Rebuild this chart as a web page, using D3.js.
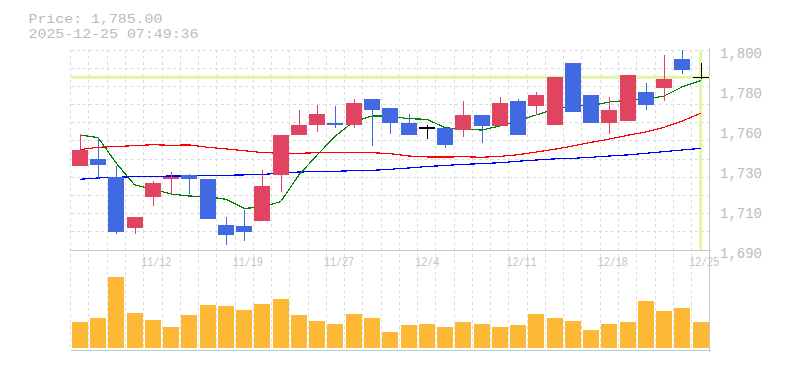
<!DOCTYPE html>
<html>
<head>
<meta charset="utf-8">
<script src="https://cdn.jsdelivr.net/npm/d3@7"></script>
<style>
html,body{margin:0;padding:0;background:#fff;}
svg{display:block;}
</style>
</head>
<body>
<script>
// ---- data ----
const dates = ["11/6","11/7","11/10","11/11","11/12","11/13","11/14","11/17","11/18","11/19","11/20","11/21","11/25","11/26","11/27","11/28","12/1","12/2","12/3","12/4","12/5","12/8","12/9","12/10","12/11","12/12","12/15","12/16","12/17","12/18","12/19","12/22","12/23","12/24","12/25"];
const open  = [1736,1740,1730,1702,1719,1729,1731,1729,1704,1703,1706,1731,1753,1759,1760,1759,1773,1768,1760,1757,1757,1756,1764,1758,1772,1769,1759,1793,1775,1760,1761,1777,1779,1795,1785];
const high  = [1754,1752,1736,1708,1728,1733,1732,1729,1708,1712,1734,1753,1767,1770,1769,1773,1773,1768,1765,1759,1757,1772,1764,1774,1773,1777,1785,1793,1775,1774,1786,1782,1797,1800,1793];
const low   = [1736,1729,1699,1699,1714,1721,1721,1707,1693,1695,1706,1722,1753,1755,1757,1757,1747,1754,1753,1751,1746,1752,1749,1758,1753,1764,1759,1766,1760,1754,1761,1767,1772,1787,1784];
const close = [1745,1737,1700,1708,1727,1730,1729,1707,1698,1700,1725,1753,1759,1765,1759,1771,1767,1760,1753,1757,1748,1764,1758,1771,1753,1775,1785,1766,1760,1767,1786,1770,1784,1789,1785];
const volume = [272,313,732,364,293,221,344,446,436,395,456,507,344,283,252,354,313,170,242,252,221,272,252,221,242,354,313,283,191,252,272,487,385,415,272];
const ma5  = [1753.3,1751.8,1737.7,1725.8,1723.5,1720.8,1719.7,1719.3,1717.9,1712.9,1713.6,1716.6,1731.3,1742.3,1752.7,1760.6,1763.7,1763.7,1762.2,1761.9,1757.3,1756.4,1756.0,1758.2,1761.1,1764.3,1767.4,1769.2,1769.4,1771.4,1772.3,1772.9,1774.7,1779.8,1783.1];
const ma25 = [1745.2,1746.5,1746.9,1747.4,1747.9,1747.6,1747.8,1746.5,1745.6,1744.6,1743.6,1743.2,1743.2,1743.5,1743.5,1743.5,1743.5,1743.0,1741.7,1741.2,1741.1,1741.3,1741.0,1741.5,1742.4,1743.9,1745.4,1747.2,1749.2,1751.0,1753.1,1754.9,1757.5,1761.0,1765.2];
const ma75 = [1728.9,1729.6,1730.0,1730.3,1730.5,1730.7,1730.7,1730.9,1731.1,1731.3,1731.6,1732.2,1732.9,1733.1,1733.3,1733.6,1733.8,1734.4,1735.1,1735.9,1736.5,1737.1,1737.5,1738.0,1738.8,1739.5,1740.1,1740.4,1741.0,1741.7,1742.3,1743.2,1744.1,1745.0,1745.9];
const yTickValues = [1800,1778,1756,1734,1712,1690];
const yTickLabels = ["1,800","1,780","1,760","1,730","1,710","1,690"];
const xTickLabels = ["11/12","11/19","11/27","12/4","12/11","12/18","12/25"];
const currentPrice = 1785;
const titleLines = ["Price: 1,785.00","2025-12-25 07:49:36"];

// ---- layout ----
const W = 785, H = 370;
const L = 70.7, R = 709.8, PT = 50, PB = 250, VT = 250.3, VB = 348.3, VBOT = 350;
const BODY = 16;
const FONT = "'Liberation Mono','DejaVu Sans Mono',monospace";

const svg = d3.select("body").append("svg").attr("width", W).attr("height", H);

const x = d3.scaleBand().domain(dates).range([L, R]).padding(0);
const bw = x.bandwidth();
const cx = d => x(d) + bw / 2;
const y = d3.scaleLinear().domain([1690, 1800]).range([PB, PT]);
const yv = d3.scaleLinear().domain([0, 1000]).range([VB, VT]);

const data = dates.map((d, i) => ({d, o: open[i], h: high[i], l: low[i], c: close[i], v: volume[i]}));

// ---- grid ----
const grid = svg.append("g").attr("stroke", "#dcdcdc").attr("stroke-dasharray", "3,3")
  .attr("shape-rendering", "crispEdges").attr("stroke-width", 1);
const vx = dates.map(d => x(d));
grid.selectAll("line.v").data(vx).join("line").attr("class", "v")
  .attr("x1", d => d).attr("x2", d => d).attr("y1", PT).attr("y2", VBOT);
grid.selectAll("line.h").data(y.ticks(11)).join("line").attr("class", "h")
  .attr("x1", L).attr("x2", R).attr("y1", d => y(d)).attr("y2", d => y(d));

// ---- borders ----
const border = svg.append("g").attr("stroke", "#c8c8c8").attr("stroke-width", 1).attr("shape-rendering", "crispEdges");
border.append("line").attr("x1", L).attr("x2", R + 1).attr("y1", PB).attr("y2", PB);
border.append("line").attr("x1", L).attr("x2", R + 1).attr("y1", VBOT).attr("y2", VBOT);
border.append("line").attr("x1", R).attr("x2", R).attr("y1", PT - 2).attr("y2", VBOT + 2);

// ---- current price marker lines ----
const hl = svg.append("g").attr("stroke", "#e4f4a6").attr("stroke-width", 3);
hl.append("line").attr("x1", L).attr("x2", R).attr("y1", y(currentPrice)).attr("y2", y(currentPrice));
hl.append("line").attr("x1", cx(dates[dates.length - 1])).attr("x2", cx(dates[dates.length - 1]))
  .attr("y1", PT).attr("y2", PB);

// ---- moving averages ----
const line = d3.line().x((v, i) => cx(dates[i])).y(v => y(v));
[[ma75, "#0000ff"], [ma25, "#ff0000"], [ma5, "#008000"]].forEach(([arr, col]) => {
  svg.append("path").datum(arr).attr("d", line).attr("fill", "none")
    .attr("stroke", col).attr("stroke-width", 1.2).attr("shape-rendering", "crispEdges");
});

// ---- candles ----
const colorOf = d => d.c > d.o ? "#e04461" : (d.c < d.o ? "#4169e1" : "#000000");
const cg = svg.append("g").attr("shape-rendering", "crispEdges");
const candles = cg.selectAll("g").data(data).join("g");
candles.append("line")
  .attr("x1", d => Math.round(cx(d.d)) + 0.5).attr("x2", d => Math.round(cx(d.d)) + 0.5)
  .attr("y1", d => y(d.h)).attr("y2", d => y(d.l))
  .attr("stroke", colorOf).attr("stroke-width", 1.3);
candles.filter(d => d.c !== d.o).append("rect")
  .attr("x", d => cx(d.d) - BODY / 2).attr("width", BODY)
  .attr("y", d => y(Math.max(d.o, d.c)))
  .attr("height", d => Math.max(1, y(Math.min(d.o, d.c)) - y(Math.max(d.o, d.c))))
  .attr("fill", colorOf);
candles.filter(d => d.c === d.o).append("line")
  .attr("x1", d => cx(d.d) - BODY / 2).attr("x2", d => cx(d.d) + BODY / 2)
  .attr("y1", d => y(d.o)).attr("y2", d => y(d.o))
  .attr("stroke", "#000").attr("stroke-width", 1.5);

// ---- volume ----
svg.append("g").attr("shape-rendering", "crispEdges").selectAll("rect").data(data).join("rect")
  .attr("x", d => cx(d.d) - BODY / 2).attr("width", BODY)
  .attr("y", d => yv(d.v)).attr("height", d => yv(0) - yv(d.v))
  .attr("fill", "#fdb835");

// ---- y axis (right) ----
const yAxis = d3.axisRight(y).tickValues(yTickValues).tickSize(0).tickPadding(0)
  .tickFormat((v, i) => yTickLabels[i]);
const ya = svg.append("g").attr("transform", `translate(${720},0)`).call(yAxis);
ya.select(".domain").remove();
ya.selectAll("text").attr("x", 0).attr("dy", null).attr("y", 7)
  .attr("fill", "#bbbbbb").attr("font-family", FONT).attr("font-size", 14).attr("text-anchor", "start");

// ---- x labels ----
svg.append("g").selectAll("text").data(xTickLabels).join("text")
  .attr("x", d => cx(d) - 11.5).attr("y", 266)
  .attr("textLength", d => d.length * 6).attr("lengthAdjust", "spacingAndGlyphs")
  .attr("fill", "#c4c4c4").attr("font-family", FONT).attr("font-size", 12)
  .text(d => d);

// ---- title ----
svg.append("g").selectAll("text").data(titleLines).join("text")
  .attr("x", 28.5).attr("y", (d, i) => 22.5 + i * 15)
  .attr("textLength", d => d.length * 9 - 1).attr("lengthAdjust", "spacingAndGlyphs")
  .attr("fill", "#bbbbbb").attr("font-family", FONT).attr("font-size", 13)
  .text(d => d);
</script>
</body>
</html>
